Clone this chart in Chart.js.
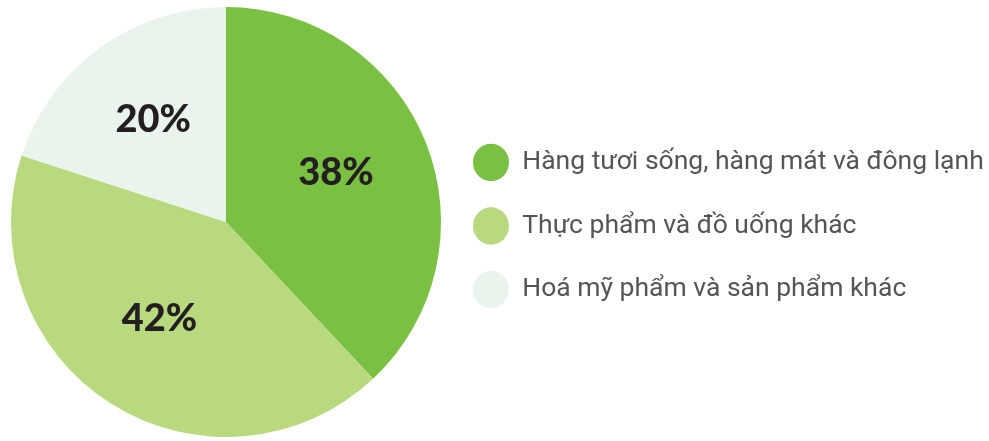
<!DOCTYPE html>
<html>
<head>
<meta charset="utf-8">
<script src="https://cdn.jsdelivr.net/npm/chart.js@4"></script>
<style>
    html, body { margin: 0; padding: 0; background: #fff; }
    #wrap { width: 989px; height: 441px; }
</style>
</head>
<body>
<div id="wrap"><canvas id="myChart" width="989" height="441"></canvas></div>
<script>
const labels = [
    'Hàng tươi sống, hàng mát và đông lạnh',
    'Thực phẩm và đồ uống khác',
    'Hoá mỹ phẩm và sản phẩm khác',
];

const values = [38, 42, 20];

const colors = [
    '#7ac143',
    '#b8d97e',
    '#e9f5ec',
];

// percentage text inside each slice
const sliceLabels = {
    id: 'sliceLabels',
    afterDatasetsDraw(chart) {
        const ctx = chart.ctx;
        const meta = chart.getDatasetMeta(0);
        ctx.save();
        ctx.font = '900 38px Lato';
        ctx.fillStyle = '#231f20';
        ctx.textAlign = 'center';
        ctx.textBaseline = 'middle';
        meta.data.forEach((arc, i) => {
            const mid = (arc.startAngle + arc.endAngle) / 2;
            const r = arc.outerRadius * 0.56;
            const x = arc.x + Math.cos(mid) * r - 2;
            const y = arc.y + Math.sin(mid) * r - 5;
            ctx.fillText(values[i] + '%', x, y);
        });
        ctx.restore();
    }
};

const data = {
    labels: labels,
    datasets: [{
        data: values,
        backgroundColor: colors,
        borderWidth: 0,
    }]
};

const config = {
    type: 'pie',
    data: data,
    options: {
        responsive: false,
        animation: false,
        radius: 215,
        layout: {
            padding: { left: 16, top: 6, bottom: 3 }
        },
        plugins: {
            tooltip: { enabled: false },
            legend: {
                position: 'right',
                maxWidth: 553,
                // empty title only nudges the items down a little
                title: {
                    display: true,
                    text: ' ',
                    padding: 0,
                    font: { size: 8, lineHeight: 1 },
                },
                labels: {
                    usePointStyle: true,
                    pointStyle: 'circle',
                    pointStyleWidth: 36,
                    boxHeight: 26.5,
                    padding: 37,
                    color: '#555555',
                    font: { family: 'Roboto', size: 26.5 },
                }
            }
        }
    },
    plugins: [sliceLabels],
};

const myChart = new Chart(
    document.getElementById('myChart'),
    config
);
</script>
</body>
</html>
